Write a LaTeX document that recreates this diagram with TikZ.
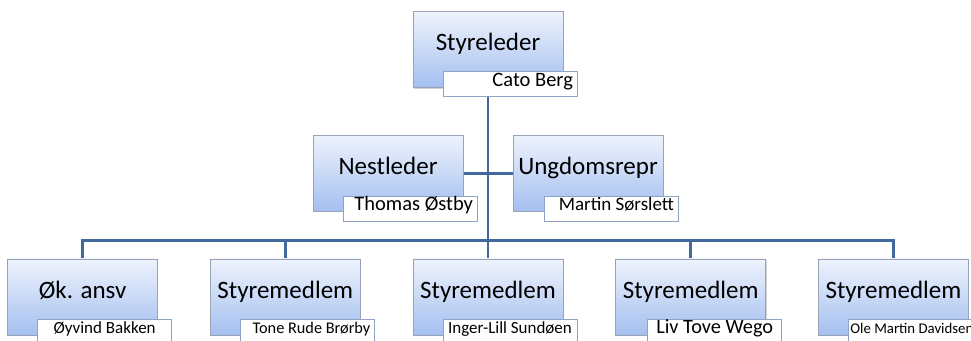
\documentclass[tikz,border=0pt]{standalone}
\usepackage{fontspec}
\setmainfont{Carlito}
\usetikzlibrary{positioning,shadows,backgrounds,calc}
\definecolor{linjeblaa}{HTML}{41699B}
\definecolor{bokstopp}{HTML}{EEF3FC}
\definecolor{boksbunn}{HTML}{A4BFF0}
\definecolor{rammegraa}{HTML}{98A3B3}
\definecolor{navnramme}{HTML}{8EA3C6}
\tikzset{
rolle/.style={
  draw=rammegraa, line width=0.7pt,
  top color=bokstopp, bottom color=boksbunn,
  minimum width=150pt, minimum height=76pt,
  text height=0.62em, text depth=0.34em,
  font=\fontsize{25}{28}\selectfont,
  drop shadow={opacity=0.35, shadow xshift=0.8pt, shadow yshift=-1.2pt}
},
navn/.style={
  draw=navnramme, line width=0.7pt, fill=white,
  anchor=south west,
  minimum height=25pt, text width=126pt,
  inner xsep=4pt, inner ysep=0pt, align=flush right,
  text height=0.66em, text depth=0.2em
},
linje/.style={draw=linjeblaa, line width=2.8pt},
}

\begin{document}
\begin{tikzpicture}[x=1pt,y=1pt]
\useasboundingbox (0,0) rectangle (971,340);
\clip (0,0) rectangle (971,340);

% ledelsen
\node[rolle] (leder) at (488,290.5) {Styreleder};
\node[rolle, below=47pt of leder, xshift=-100pt] (nest) {Nestleder};
\node[rolle, below=47pt of leder, xshift=100pt] (ungdom) {Ungdomsrepr};

% styremedlemmer
\node[rolle, below=47pt of nest, xshift=100pt] (m3) {Styremedlem};
\node[rolle, left=52pt of m3] (m2) {Styremedlem};
\node[rolle, left=52pt of m2] (m1) {Øk. ansv};
\node[rolle, right=52pt of m3] (m4) {Styremedlem};
\node[rolle, right=52pt of m4] (m5) {Styremedlem};

% navnelapper
\node[navn, font=\fontsize{20.5}{24}\selectfont] (n-leder) at ([shift={(30pt,-9pt)}]leder.south west) {Cato Berg};
\node[navn, font=\fontsize{20.5}{24}\selectfont] (n-nest) at ([shift={(30pt,-10pt)}]nest.south west) {Thomas Østby};
\node[navn, font=\fontsize{19}{22}\selectfont] (n-ungdom) at ([shift={(31pt,-10pt)}]ungdom.south west) {Martin Sørslett};
\node[navn, align=flush center, font=\fontsize{17}{20}\selectfont] (n-m1) at ([shift={(30pt,-9pt)}]m1.south west) {Øyvind Bakken};
\node[navn, font=\fontsize{16.3}{20}\selectfont] (n-m2) at ([shift={(30pt,-9pt)}]m2.south west) {Tone Rude Brørby};
\node[navn, align=flush center, font=\fontsize{17}{20}\selectfont] (n-m3) at ([shift={(30pt,-9pt)}]m3.south west) {Inger-Lill Sundøen};
\node[navn, align=flush center, font=\fontsize{20.3}{24}\selectfont] (n-m4) at ([shift={(32pt,-9pt)}]m4.south west) {Liv Tove Wego};
\node[navn, align=flush left, text width=130pt, inner xsep=2pt, font=\fontsize{14.8}{18}\selectfont] (n-m5) at ([shift={(30pt,-9pt)}]m5.south west) {Ole Martin Davidsen};

\coordinate (buss) at ([yshift=18pt]m3.north);

\begin{scope}[on background layer]
\draw[linje] (leder.south) -- (buss);
\draw[linje] (nest.east) -- (ungdom.west);
\draw[linje] (m1.north) -- (m1.north |- buss) -- (m5.north |- buss) -- (m5.north);
\foreach \m in {m2,m3,m4}
  \draw[linje] (\m.north) -- (\m.north |- buss);
\end{scope}
\end{tikzpicture}
\end{document}
